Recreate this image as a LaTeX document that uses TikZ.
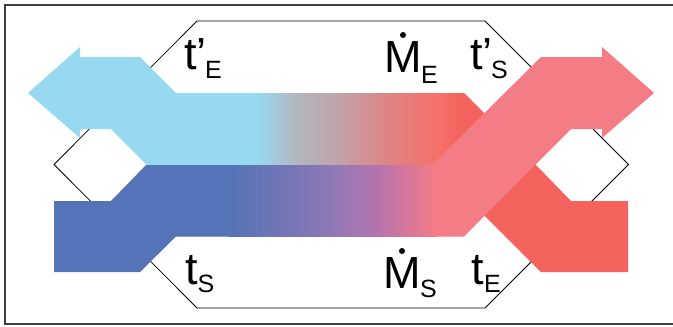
\documentclass[tikz,border=0pt]{standalone}
\usepackage{fontspec}
\setmainfont{Liberation Sans}
\definecolor{cy}{HTML}{97D9F0}
\definecolor{rd}{HTML}{F4635D}
\definecolor{bl}{HTML}{5573B8}
\definecolor{pk}{HTML}{F47C85}
\definecolor{pu}{HTML}{B274AE}
\definecolor{ua}{HTML}{B3B6BD}
\definecolor{ub}{HTML}{C0A4AC}
\definecolor{uc}{HTML}{DE8484}
\definecolor{ud}{HTML}{F6706A}
\definecolor{la}{HTML}{7A76B5}
\definecolor{lb}{HTML}{9279B5}
\definecolor{ld}{HTML}{D4769C}
\pgfdeclarehorizontalshading{upperband}{100bp}{color(0bp)=(cy); color(25bp)=(cy); color(34.7bp)=(ua); color(44.3bp)=(ub); color(56.9bp)=(uc); color(69.3bp)=(ud); color(75bp)=(rd); color(100bp)=(rd)}
\pgfdeclarehorizontalshading{lowerband}{100bp}{color(0bp)=(bl); color(25bp)=(bl); color(41.5bp)=(la); color(50.8bp)=(lb); color(60.2bp)=(pu); color(67.3bp)=(ld); color(75bp)=(pk); color(100bp)=(pk)}
\tikzset{
  big/.style={inner sep=0pt,anchor=base west,font=\fontsize{45}{45}\selectfont},
  subs/.style={inner sep=0pt,anchor=base west,font=\fontsize{25}{25}\selectfont},
  thin line/.style={draw=black,line width=0.8pt},
}
\begin{document}
\begin{tikzpicture}[x=1pt,y=-1pt]
\useasboundingbox (0,0) rectangle (673,327);
\fill[white] (0,0) rectangle (673,327);
\draw[draw=black!75,line width=1.2pt] (680,5) -- (5,5) -- (5,324) -- (680,324);
\draw[thin line] (197,21) -- (485,21) -- (628.5,164.5) -- (485,308) -- (197,308) -- (54,164.5) -- cycle;
% red lower stream
\fill[rd] (455,93) -- (464,93) -- (536,165) -- (571,201) -- (628,201) -- (628,272) -- (541,272) -- (485,216) -- (455,165) -- cycle;
% cyan stream
\fill[cy] (262,93) -- (176,93) -- (140,57) -- (80,57) -- (80,47) -- (28,93) -- (80,138) -- (80,129) -- (111,129) -- (147,165) -- (262,165) -- cycle;
\shade[shading=upperband] (258,93) rectangle (460,165);
% blue stream
\fill[bl] (232,165) -- (146,165) -- (111,201) -- (54,201) -- (54,272) -- (140,272) -- (176,236.5) -- (232,236.5) -- cycle;
\shade[shading=lowerband] (228,165) rectangle (437,236.2);
% pink stream
\fill[pk] (432,165) -- (541,57) -- (602,57) -- (602,47) -- (654,93) -- (602,138) -- (602,129) -- (571,129) -- (464,236.5) -- (432,236.5) -- cycle;
% labels
\node[big] (tE1) at (184,69) {t’};
\node[subs] (tE1s) at (205,78) {E};
\node[big] (ME) at (384.5,72.5) {M};
\fill (403,35) circle (3);
\node[subs] (MEs) at (421,83) {E};
\node[big] (tS1) at (470,69) {t’};
\node[subs] (tS1s) at (491,78) {S};
\node[big] (tS) at (185.5,284) {t};
\node[subs] (tSs) at (197.5,292) {S};
\node[big] (MS) at (383.5,288) {M};
\fill (402,251) circle (3);
\node[subs] (MSs) at (420,297) {S};
\node[big] (tE) at (471.5,284) {t};
\node[subs] (tEs) at (484,292) {E};
\end{tikzpicture}
\end{document}
